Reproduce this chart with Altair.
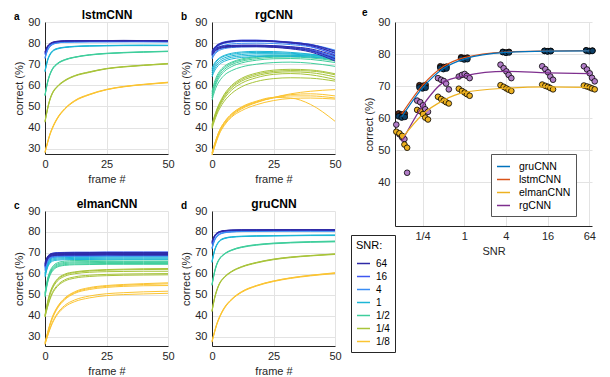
import altair as alt
import pandas as pd

FRAMES = [0, 1, 2, 3, 5, 8, 12, 18, 25, 32, 40, 50]
SNR_LEVELS = ["64", "16", "4", "1", "1/2", "1/4", "1/8"]
SNR_VALUES = [64, 16, 4, 1, 0.5, 0.25, 0.125]
SNR_COLORS = ["#2f2aa6", "#3f57f0", "#3a8df5", "#1cb6d6", "#3fce9c", "#a8c43a", "#fbc432"]

MODELS = ["gruCNN", "lstmCNN", "elmanCNN", "rgCNN"]
MODEL_LINE_COLORS = ["#0072BD", "#D95319", "#EDB120", "#7E2F8E"]
MODEL_POINT_FILLS = ["#0d3f66", "#5a2a16", "#EDB120", "#b07cc6"]

SNR_TICKS = [0.25, 1, 4, 16, 64]
SNR_TICK_LABELS = ["1/4", "1", "4", "16", "64"]
JITTER = {3: [-0.15, 0.0, 0.15], 5: [-0.26, -0.11, 0.02, 0.13, 0.26]}

LSTM = {
    "64": [[76.0, 78.6, 79.8, 80.4, 80.9, 81.1, 81.2, 81.2, 81.2, 81.3, 81.2, 81.2],
           [75.3, 78.2, 79.5, 80.2, 80.7, 81.0, 81.0, 81.1, 81.1, 81.0, 81.1, 81.0],
           [75.8, 78.4, 79.6, 80.3, 80.8, 81.0, 81.1, 81.1, 81.2, 81.2, 81.2, 81.1]],
    "16": [[75.2, 78.1, 79.4, 80.1, 80.6, 80.9, 81.0, 81.0, 81.1, 81.0, 81.0, 81.0],
           [74.6, 77.7, 79.1, 79.9, 80.5, 80.8, 80.9, 80.9, 80.9, 81.0, 80.9, 80.9],
           [75.0, 78.0, 79.3, 80.0, 80.6, 80.9, 81.0, 81.0, 81.0, 81.0, 81.1, 81.0]],
    "4": [[73.2, 76.8, 78.6, 79.5, 80.2, 80.5, 80.6, 80.7, 80.7, 80.8, 80.7, 80.7],
          [72.6, 76.3, 78.2, 79.2, 80.0, 80.4, 80.5, 80.6, 80.6, 80.6, 80.6, 80.5],
          [73.0, 76.6, 78.4, 79.4, 80.1, 80.5, 80.6, 80.7, 80.7, 80.7, 80.8, 80.7]],
    "1": [[67.0, 72.0, 74.8, 76.3, 77.5, 78.1, 78.5, 78.7, 78.9, 79.0, 79.0, 79.0],
          [66.3, 71.4, 74.3, 75.9, 77.2, 77.9, 78.3, 78.6, 78.7, 78.8, 78.8, 78.8],
          [66.7, 71.7, 74.6, 76.1, 77.4, 78.0, 78.4, 78.7, 78.8, 78.9, 79.0, 78.9]],
    "1/2": [[55.5, 61.5, 65.4, 67.9, 70.4, 72.2, 73.4, 74.5, 75.2, 75.6, 75.9, 76.2],
            [55.0, 61.0, 64.9, 67.4, 70.0, 71.9, 73.2, 74.3, 75.0, 75.4, 75.7, 76.0],
            [55.3, 61.3, 65.2, 67.7, 70.2, 72.1, 73.3, 74.4, 75.1, 75.5, 75.8, 76.1]],
    "1/4": [[43.0, 49.0, 53.5, 56.5, 59.6, 62.4, 64.6, 66.4, 68.0, 68.9, 69.6, 70.3],
            [42.5, 48.4, 53.0, 56.0, 59.2, 62.0, 64.3, 66.1, 67.8, 68.7, 69.4, 70.1],
            [42.8, 48.7, 53.3, 56.3, 59.4, 62.2, 64.5, 66.3, 67.9, 68.8, 69.5, 70.4]],
    "1/8": [[28.5, 33.0, 37.0, 40.0, 44.6, 49.0, 52.8, 55.8, 58.1, 59.5, 60.5, 61.5],
            [28.0, 32.5, 36.5, 39.5, 44.1, 48.6, 52.4, 55.5, 57.9, 59.3, 60.3, 61.2],
            [28.3, 32.8, 36.8, 39.8, 44.4, 48.8, 52.6, 55.6, 58.0, 59.4, 60.4, 61.4]],
}

GRU = {
    "64": [[75.6, 78.3, 79.6, 80.2, 80.7, 80.9, 81.0, 81.0, 81.1, 81.1, 81.1, 81.1],
           [75.0, 77.9, 79.3, 80.0, 80.5, 80.8, 80.9, 80.9, 80.9, 81.0, 81.0, 80.9],
           [75.4, 78.1, 79.4, 80.1, 80.6, 80.9, 81.0, 81.0, 81.0, 81.0, 81.1, 81.0]],
    "16": [[74.8, 77.8, 79.2, 79.9, 80.5, 80.8, 80.9, 80.9, 81.0, 81.0, 81.0, 81.0],
           [74.2, 77.4, 78.9, 79.7, 80.3, 80.6, 80.7, 80.8, 80.8, 80.8, 80.8, 80.8],
           [74.6, 77.6, 79.0, 79.8, 80.4, 80.7, 80.8, 80.9, 80.9, 80.9, 81.0, 80.9]],
    "4": [[72.5, 76.2, 78.1, 79.0, 79.8, 80.2, 80.4, 80.5, 80.5, 80.6, 80.6, 80.6],
          [71.8, 75.7, 77.7, 78.7, 79.6, 80.0, 80.2, 80.3, 80.4, 80.4, 80.4, 80.4],
          [72.2, 76.0, 77.9, 78.9, 79.7, 80.1, 80.3, 80.4, 80.5, 80.5, 80.5, 80.5]],
    "1": [[66.0, 71.2, 74.2, 75.8, 77.1, 77.7, 78.0, 78.2, 78.3, 78.4, 78.5, 78.6],
          [65.4, 70.7, 73.8, 75.4, 76.8, 77.5, 77.8, 78.0, 78.1, 78.2, 78.3, 78.3],
          [65.8, 71.0, 74.0, 75.6, 77.0, 77.6, 77.9, 78.1, 78.2, 78.3, 78.4, 78.4]],
    "1/2": [[55.0, 61.0, 65.0, 67.3, 69.6, 71.5, 72.9, 74.0, 74.7, 75.1, 75.4, 75.7],
            [54.5, 60.5, 64.5, 66.9, 69.3, 71.2, 72.6, 73.7, 74.4, 74.8, 75.1, 75.3],
            [54.8, 60.8, 64.8, 67.1, 69.5, 71.4, 72.8, 73.9, 74.6, 75.0, 75.3, 75.5]],
    "1/4": [[42.5, 48.5, 52.6, 55.5, 58.6, 61.3, 63.5, 65.5, 67.1, 68.1, 68.8, 69.6],
            [42.0, 48.0, 52.1, 55.1, 58.2, 61.0, 63.2, 65.2, 66.8, 67.8, 68.6, 69.3],
            [42.3, 48.3, 52.4, 55.3, 58.4, 61.2, 63.4, 65.4, 67.0, 68.0, 68.7, 69.5]],
    "1/8": [[28.0, 32.5, 36.5, 39.5, 44.0, 48.1, 51.6, 54.5, 56.7, 58.2, 59.4, 60.6],
            [27.5, 32.0, 36.0, 39.0, 43.5, 47.7, 51.2, 54.2, 56.4, 57.9, 59.1, 60.2],
            [27.8, 32.3, 36.3, 39.3, 43.8, 47.9, 51.4, 54.4, 56.6, 58.1, 59.3, 60.4]],
}

RG = {
    "64": [[76.0, 77.8, 78.9, 79.6, 80.4, 81.0, 81.3, 81.3, 81.0, 80.4, 79.3, 76.2],
           [75.5, 77.4, 78.6, 79.3, 80.2, 80.8, 81.1, 81.1, 80.8, 80.1, 78.9, 75.2],
           [75.0, 76.8, 77.8, 78.3, 78.7, 78.9, 79.0, 79.0, 78.8, 78.3, 77.3, 74.0],
           [74.6, 76.2, 77.2, 77.8, 78.3, 78.5, 78.6, 78.6, 78.4, 77.8, 76.5, 72.6],
           [74.2, 75.8, 76.8, 77.4, 77.9, 78.2, 78.3, 78.3, 78.0, 77.3, 75.8, 71.5]],
    "16": [[76.3, 78.0, 79.1, 79.8, 80.6, 81.1, 81.4, 81.4, 81.1, 80.5, 79.4, 76.2],
           [75.8, 77.6, 78.7, 79.5, 80.3, 80.9, 81.2, 81.2, 80.9, 80.2, 79.0, 75.3],
           [75.4, 77.2, 78.3, 79.1, 80.0, 80.6, 80.9, 80.9, 80.6, 79.9, 78.5, 74.3],
           [74.8, 76.5, 77.5, 78.1, 78.6, 78.9, 79.0, 79.0, 78.8, 78.2, 76.9, 73.0],
           [74.4, 76.0, 77.0, 77.6, 78.1, 78.4, 78.5, 78.5, 78.2, 77.6, 76.2, 72.0]],
    "4": [[75.0, 77.2, 78.5, 79.3, 80.2, 80.8, 81.1, 81.1, 80.9, 80.4, 79.4, 76.7],
          [74.5, 76.8, 78.1, 78.9, 79.9, 80.5, 80.8, 80.9, 80.7, 80.1, 79.0, 75.6],
          [73.8, 76.0, 77.3, 78.1, 79.0, 79.6, 79.9, 80.0, 79.8, 79.3, 78.2, 74.6],
          [73.0, 75.0, 76.3, 77.1, 77.9, 78.4, 78.6, 78.7, 78.5, 78.0, 76.9, 73.5],
          [72.5, 74.5, 75.8, 76.6, 77.4, 77.9, 78.2, 78.3, 78.1, 77.5, 76.3, 72.5]],
    "1": [[68.0, 70.5, 72.0, 73.0, 74.2, 75.2, 75.8, 76.1, 76.0, 75.6, 74.8, 73.0],
          [67.0, 69.8, 71.5, 72.6, 73.8, 74.7, 75.3, 75.6, 75.5, 75.2, 74.6, 73.5],
          [66.0, 68.8, 70.5, 71.7, 73.0, 74.0, 74.6, 75.0, 75.0, 74.8, 74.3, 73.8],
          [65.0, 67.8, 69.6, 70.8, 72.2, 73.3, 73.9, 74.3, 74.4, 74.3, 74.0, 73.2],
          [64.0, 66.8, 68.6, 69.9, 71.4, 72.5, 73.2, 73.6, 73.8, 73.7, 73.4, 72.5]],
    "1/2": [[57.0, 61.5, 64.5, 66.5, 69.0, 71.0, 72.5, 73.6, 74.2, 74.2, 73.8, 72.5],
            [56.0, 60.5, 63.5, 65.7, 68.3, 70.5, 72.0, 73.2, 73.8, 73.8, 73.4, 72.0],
            [55.0, 59.5, 62.6, 64.8, 67.5, 69.8, 71.4, 72.6, 73.3, 73.4, 73.0, 71.6],
            [54.0, 58.5, 61.6, 63.8, 66.6, 68.9, 70.6, 71.9, 72.6, 72.7, 72.3, 70.8],
            [53.0, 57.0, 60.0, 62.0, 64.8, 67.0, 68.7, 70.0, 70.8, 71.0, 70.5, 69.0]],
    "1/4": [[41.5, 45.5, 48.8, 51.5, 55.8, 60.0, 63.3, 65.8, 67.2, 67.6, 67.3, 65.5],
            [41.0, 45.0, 48.3, 51.0, 55.2, 59.4, 62.7, 65.2, 66.6, 67.0, 66.8, 65.0],
            [40.5, 44.5, 47.8, 50.5, 54.6, 58.8, 62.0, 64.5, 66.0, 66.4, 66.0, 64.0],
            [40.0, 44.0, 47.2, 49.8, 53.8, 57.8, 61.0, 63.6, 65.2, 65.6, 65.0, 62.8],
            [39.5, 43.2, 46.3, 48.8, 52.5, 56.2, 59.3, 61.8, 63.2, 63.6, 63.4, 62.0]],
    "1/8": [[27.0, 31.0, 34.5, 37.5, 41.5, 45.5, 48.8, 51.8, 54.2, 56.0, 57.2, 58.0],
            [27.5, 31.5, 35.0, 38.0, 42.0, 46.0, 49.2, 52.0, 54.3, 55.6, 56.0, 55.0],
            [28.0, 32.0, 35.5, 38.5, 42.5, 46.5, 49.5, 52.2, 54.0, 55.0, 55.0, 54.0],
            [27.0, 30.5, 34.0, 37.0, 41.0, 45.0, 48.0, 50.8, 52.8, 53.8, 54.0, 53.5],
            [28.0, 32.0, 35.5, 38.5, 42.5, 46.5, 49.8, 52.5, 54.3, 54.0, 51.0, 43.0]],
}

ELMAN = {
    "64": [[65.5, 68.3, 69.4, 69.8, 70.0, 70.1, 70.1, 70.2, 70.2, 70.2, 70.2, 70.2],
           [65.0, 68.0, 69.2, 69.6, 69.8, 69.9, 69.9, 69.9, 70.0, 69.9, 69.9, 69.9],
           [64.6, 67.7, 68.9, 69.3, 69.5, 69.6, 69.6, 69.6, 69.7, 69.6, 69.6, 69.6],
           [64.2, 67.4, 68.6, 69.0, 69.2, 69.3, 69.3, 69.3, 69.4, 69.3, 69.3, 69.3],
           [63.8, 67.0, 68.3, 68.7, 68.9, 69.0, 69.0, 69.0, 69.1, 69.0, 69.0, 69.0]],
    "16": [[64.8, 68.0, 69.4, 69.9, 70.2, 70.3, 70.4, 70.4, 70.5, 70.5, 70.5, 70.5],
           [64.4, 67.6, 69.0, 69.5, 69.8, 69.9, 70.0, 70.0, 70.1, 70.1, 70.1, 70.1],
           [64.0, 67.3, 68.7, 69.2, 69.5, 69.6, 69.7, 69.7, 69.8, 69.8, 69.8, 69.8],
           [63.6, 66.9, 68.3, 68.8, 69.1, 69.2, 69.3, 69.3, 69.4, 69.4, 69.4, 69.4],
           [63.2, 66.5, 67.9, 68.4, 68.7, 68.8, 68.9, 68.9, 69.0, 69.0, 69.0, 69.0]],
    "4": [[63.5, 67.3, 68.9, 69.6, 70.0, 70.1, 70.2, 70.2, 70.3, 70.3, 70.3, 70.3],
          [63.0, 66.8, 68.4, 69.1, 69.5, 69.6, 69.7, 69.7, 69.8, 69.8, 69.8, 69.8],
          [62.5, 66.3, 67.9, 68.6, 69.0, 69.1, 69.2, 69.2, 69.3, 69.3, 69.3, 69.3],
          [62.0, 65.9, 67.5, 68.2, 68.6, 68.7, 68.8, 68.8, 68.9, 68.9, 68.9, 68.9],
          [61.5, 65.4, 67.1, 67.8, 68.2, 68.3, 68.4, 68.4, 68.5, 68.5, 68.5, 68.5]],
    "1": [[60.5, 65.0, 67.2, 68.2, 68.8, 69.0, 69.1, 69.1, 69.2, 69.2, 69.2, 69.2],
          [60.0, 64.4, 66.6, 67.6, 68.1, 68.3, 68.4, 68.4, 68.5, 68.5, 68.5, 68.5],
          [59.5, 63.9, 66.1, 67.1, 67.6, 67.8, 67.9, 67.9, 68.0, 68.0, 68.0, 68.0],
          [59.0, 63.4, 65.6, 66.6, 67.1, 67.3, 67.4, 67.4, 67.5, 67.5, 67.5, 67.5],
          [58.5, 62.9, 65.1, 66.1, 66.6, 66.8, 66.9, 66.9, 67.0, 67.0, 67.0, 67.0]],
    "1/2": [[51.0, 57.5, 61.3, 63.4, 65.3, 66.1, 66.4, 66.5, 66.6, 66.7, 66.7, 66.7],
            [50.5, 57.0, 60.7, 62.8, 64.7, 65.5, 65.8, 65.9, 66.0, 66.0, 66.0, 66.0],
            [50.0, 56.5, 60.2, 62.3, 64.2, 65.0, 65.3, 65.4, 65.5, 65.5, 65.5, 65.5],
            [49.5, 56.0, 59.7, 61.8, 63.7, 64.5, 64.8, 64.9, 65.0, 65.0, 65.0, 65.0],
            [49.0, 55.5, 59.2, 61.3, 63.3, 64.1, 64.4, 64.5, 64.6, 64.6, 64.6, 64.6]],
    "1/4": [[40.5, 46.5, 51.0, 54.0, 57.6, 59.9, 61.0, 61.7, 62.1, 62.3, 62.5, 62.6],
            [40.0, 46.0, 50.5, 53.5, 57.2, 59.5, 60.7, 61.4, 61.8, 62.0, 62.1, 62.2],
            [40.0, 45.5, 50.0, 53.0, 56.6, 58.9, 60.1, 60.8, 61.1, 61.2, 61.3, 61.3],
            [39.5, 44.5, 48.3, 51.2, 54.6, 57.2, 58.6, 59.4, 59.8, 60.0, 60.1, 60.2],
            [39.5, 44.0, 47.8, 50.6, 54.0, 56.6, 58.0, 58.8, 59.2, 59.4, 59.5, 59.6]],
    "1/8": [[27.5, 32.0, 36.2, 39.6, 44.3, 48.5, 51.5, 53.5, 54.5, 55.0, 55.4, 55.8],
            [27.0, 31.5, 35.8, 39.2, 43.9, 48.1, 51.1, 53.1, 54.1, 54.6, 55.0, 55.3],
            [27.0, 31.3, 35.5, 38.8, 43.5, 47.7, 50.7, 52.6, 53.6, 54.1, 54.4, 54.5],
            [26.5, 30.5, 34.0, 37.0, 41.2, 45.0, 47.6, 49.5, 50.6, 51.1, 51.5, 51.8],
            [26.5, 30.2, 33.6, 36.5, 40.6, 44.3, 46.8, 48.6, 49.7, 50.2, 50.5, 50.8]],
}

CURVES = {"gruCNN": GRU, "lstmCNN": LSTM, "elmanCNN": ELMAN, "rgCNN": RG}

FONT = "Liberation Sans"
TXT = "#262626"

# ---------- long tables ----------
rows = []
for model, curves in CURVES.items():
    for snr in reversed(SNR_LEVELS):
        for i, vals in enumerate(curves[snr]):
            for f, v in zip(FRAMES, vals):
                rows.append({"model": model, "snr": snr, "key": f"{snr}_{i}",
                             "frame": f, "correct": v})
curve_df = pd.DataFrame(rows)

pts = []
for model in ["rgCNN", "elmanCNN", "lstmCNN", "gruCNN"]:
    curves = CURVES[model]
    for snr, sv in zip(SNR_LEVELS, SNR_VALUES):
        inst = curves[snr]
        jit = JITTER[len(inst)]
        for i, vals in enumerate(inst):
            pts.append({"model": model, "net": model, "snr_val": sv,
                        "snr_jit": sv * 2 ** jit[i], "final": vals[-1]})
pts_df = pd.DataFrame(pts)


def panel(model, letter, ymin, height, legend=None):
    d = curve_df[curve_df.model == model]
    lines = alt.Chart(d).mark_line(strokeWidth=1, interpolate="monotone").encode(
        x=alt.X("frame:Q", scale=alt.Scale(domain=[0, 50], nice=False),
                axis=alt.Axis(values=[0, 25, 50], title="frame #", ticks=False,
                              labelFlush=False, labelPadding=4, titlePadding=4)),
        y=alt.Y("correct:Q", scale=alt.Scale(domain=[ymin, 90], nice=False, zero=False),
                axis=alt.Axis(values=[30, 40, 50, 60, 70, 80, 90], title="correct (%)",
                              ticks=False, labelPadding=5, titlePadding=3)),
        color=alt.Color("snr:N", scale=alt.Scale(domain=SNR_LEVELS, range=SNR_COLORS),
                        legend=legend),
        detail="key:N",
    )
    ghost = alt.Chart(pd.DataFrame({"frame": [0]})).mark_point(opacity=0).encode(
        x=alt.X("frame:Q", scale=alt.Scale(domain=[0, 50], nice=False),
                axis=alt.Axis(orient="top", labels=False, ticks=False, domain=False,
                              grid=False, title=model, titleFontSize=12,
                              titleFontWeight="bold", titleColor="#000",
                              titlePadding=1)),
    )
    return alt.layer(lines, ghost).resolve_axis(x="independent").properties(
        width=123, height=height,
        title=alt.Title(letter, anchor="start", frame="group", dx=-31, fontSize=10,
                        offset=-14, fontWeight="bold", color="#000"),
    )


snr_legend = alt.Legend(
    title="SNR:", orient="none", legendX=139, legendY=24, direction="vertical",
    symbolType="stroke", symbolSize=169, symbolStrokeWidth=1.5,
    labelFontSize=10, titleFontSize=11, titleFontWeight="normal",
    strokeColor="#262626", fillColor="white", padding=5, rowPadding=0,
    labelOffset=5, values=SNR_LEVELS,
)

pa = panel("lstmCNN", "a", 27.5, 132)
pb = panel("rgCNN", "b", 27.5, 132)
pc = panel("elmanCNN", "c", 25.7, 135)
pd_ = panel("gruCNN", "d", 25.7, 135, legend=snr_legend)

label_expr = " : ".join(
    [f"datum.value == {v} ? '{l}'" for v, l in zip(SNR_TICKS, SNR_TICK_LABELS)] + ["''"]
)
xscale = alt.Scale(type="log", domain=[0.1, 70], nice=False)
xaxis = alt.Axis(values=SNR_TICKS, labelExpr=label_expr, title="SNR", ticks=False,
                 labelFlush=False, labelPadding=4, titlePadding=4)
yscale = alt.Scale(domain=[26.4, 90], nice=False, zero=False)
yaxis = alt.Axis(values=[40, 50, 60, 70, 80, 90], title="correct (%)", ticks=False,
                 labelPadding=5, titlePadding=3)

e_pts = alt.Chart(pts_df).mark_circle(size=32, stroke="black", strokeWidth=0.8,
                                      opacity=1).encode(
    x=alt.X("snr_jit:Q", scale=xscale, axis=xaxis),
    y=alt.Y("final:Q", scale=yscale, axis=yaxis),
    fill=alt.Fill("net:N", scale=alt.Scale(domain=MODELS, range=MODEL_POINT_FILLS),
                  legend=None),
)
e_lines = alt.Chart(pts_df).transform_aggregate(
    mean_final="mean(final)", groupby=["model", "snr_val"]
).mark_line(strokeWidth=1.2, interpolate="monotone").encode(
    x=alt.X("snr_val:Q", scale=xscale),
    y=alt.Y("mean_final:Q", scale=yscale),
    stroke=alt.Stroke("model:N", scale=alt.Scale(domain=MODELS, range=MODEL_LINE_COLORS),
                      legend=alt.Legend(title=None, orient="none", legendX=96, legendY=132,
                                        symbolType="stroke", symbolSize=169,
                                        symbolStrokeWidth=1.5, labelFontSize=10.5,
                                        strokeColor="#555555", fillColor="white",
                                        padding=5, rowPadding=0, labelOffset=8,
                                        values=MODELS)),
)
pe = alt.layer(e_pts, e_lines).resolve_scale(fill="independent", stroke="independent").properties(
    width=197, height=204,
    title=alt.Title("e", anchor="start", frame="group", dx=-33, fontSize=10, offset=-2,
                    fontWeight="bold", color="#000"),
)

# nested flush groups count as zero-size, so spacing is measured from plot origin
top = alt.hconcat(pa, pb, spacing=44, bounds="flush").resolve_scale(color="independent")
bot = alt.hconcat(pc, pd_, spacing=44, bounds="flush").resolve_scale(color="independent")
left = alt.vconcat(top, bot, spacing=189, bounds="flush").resolve_scale(color="independent")
chart = alt.hconcat(left, pe, spacing=350, bounds="flush").resolve_scale(
    color="independent").properties(
    padding={"left": 5, "top": 0, "right": 0, "bottom": 0}
).configure(font=FONT).configure_axis(
    labelFont=FONT, titleFont=FONT, labelFontSize=11, titleFontSize=11,
    labelColor=TXT, titleColor=TXT, titleFontWeight="normal",
    gridColor="#e3e3e3", domainColor=TXT,
).configure_legend(labelFont=FONT, titleFont=FONT, labelColor="#000", titleColor="#000"
).configure_title(font=FONT).configure_view(stroke=None)

chart.save("out.html", embed_options={"renderer": "svg", "actions": False})
